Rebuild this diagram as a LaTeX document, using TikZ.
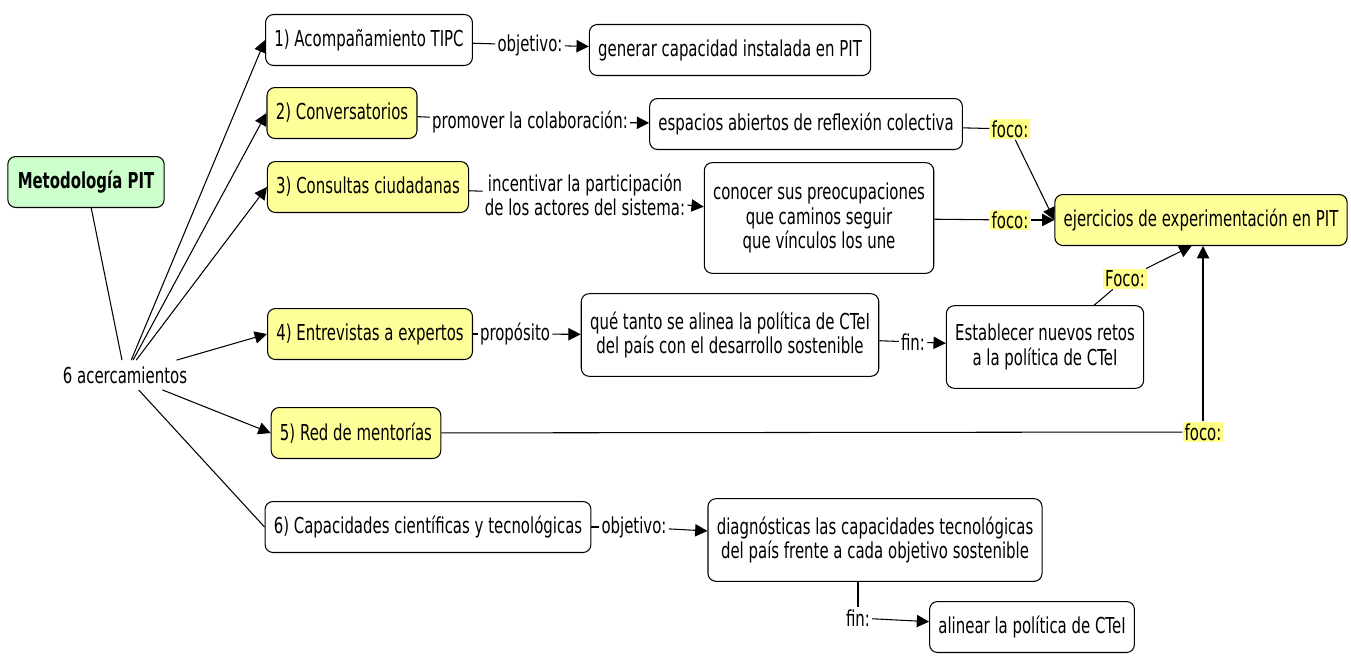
\documentclass[tikz,border=0pt]{standalone}
\usepackage{fontspec}
\setmainfont{DejaVu Sans}[FakeStretch=0.68]
\usetikzlibrary{arrows.meta}
\definecolor{cyellow}{HTML}{FFFF99}
\definecolor{cgreen}{HTML}{CCFFCC}
\definecolor{lyellow}{HTML}{FFFF88}
\begin{document}
\begin{tikzpicture}
  [x=0.02cm,y=-0.02cm,line width=0.6pt,
   every node/.style={font=\fontsize{12.5}{13.8}\selectfont,align=center},
   >={Triangle[length=7pt,width=7pt]}]
  \tikzstyle{concept} = [draw,rounded corners=4.5pt,inner xsep=5pt,minimum height=29pt]
  \tikzstyle{yel} = [concept,fill=cyellow]
  \tikzstyle{link} = [inner sep=1pt]
  \tikzstyle{foco} = [link,fill=lyellow]
  \useasboundingbox (0,0) rectangle (1351,656);
  % conceptos
  \node[concept,fill=cgreen,font=\fontsize{12.5}{13.8}\selectfont\bfseries,minimum width=89pt] (met) at (86,182) {Metodología PIT};
  \node (acer) at (125,375) {6 acercamientos};
  \node[concept] (c1) at (369,40) {1) Acompañamiento TIPC};
  \node[yel] (c2) at (342,113) {2) Conversatorios};
  \node[yel] (c3) at (368,187) {3) Consultas ciudadanas};
  \node[yel] (c4) at (370,334) {4) Entrevistas a expertos};
  \node[yel] (c5) at (356,433) {5) Red de mentorías};
  \node[concept] (c6) at (428,527) {6) Capacidades científicas y tecnológicas};
  \node[concept] (t1) at (730,50) {generar capacidad instalada en PIT};
  \node[concept] (t2) at (806,124) {espacios abiertos de reflexión colectiva};
  \node[concept,minimum height=63pt] (t3) at (819,218) {conocer sus preocupaciones\\que caminos seguir\\que vínculos los une};
  \node[concept,minimum height=47pt] (t4) at (730,335) {qué tanto se alinea la política de CTeI\\del país con el desarrollo sostenible};
  \node[concept,minimum height=47pt] (t5) at (1045,347) {Establecer nuevos retos\\a la política de CTeI};
  \node[concept,minimum height=47pt] (t6) at (875,540) {diagnósticas las capacidades tecnológicas\\del país frente a cada objetivo sostenible};
  \node[concept] (t7) at (1032,627) {alinear la política de CTeI};
  \node[yel] (ej) at (1201,220) {ejercicios de experimentación en PIT};
  % frases de enlace
  \node[link] (l1) at (530,45) {objetivo:};
  \node[link] (l2) at (530,122) {promover la colaboración:};
  \node[link] (l3) at (585,195) {incentivar la participación\\de los actores del sistema:};
  \node[link] (l4) at (515,334) {propósito};
  \node[link] (l5) at (913,342) {fin:};
  \node[link] (l6) at (634,527) {objetivo:};
  \node[link] (l7) at (858,618) {fin:};
  \node[foco] (f1) at (1010,129) {foco:};
  \node[foco] (f2) at (1010,220) {foco:};
  \node[foco] (f3) at (1125,279) {Foco:};
  \node[foco] (f4) at (1203,432) {foco:};

  \draw (met) -- (acer);
  \foreach \dest in {c1,c2,c3,c4,c5}
    \draw[->] (acer) -- (\dest.west);
  \draw (acer) -- (c6.west);
\foreach \source /\lab /\dest in {c1/l1/t1,c2/l2/t2,c3/l3/t3,c4/l4/t4,t4/l5/t5,c6/l6/t6,t2/f1/ej.west,t3/f2/ej.west,t5/f3/ej.-110}
  {\draw (\source) -- (\lab);
   \draw[->] (\lab) -- (\dest);}
  \draw (t6.south -| l7.north) -- (l7.north);
  \draw[->] (l7) -- (t7);
  \draw (c5) -- (f4);
  \draw[->] (f4) -- (f4 |- ej.south);
\end{tikzpicture}
\end{document}
